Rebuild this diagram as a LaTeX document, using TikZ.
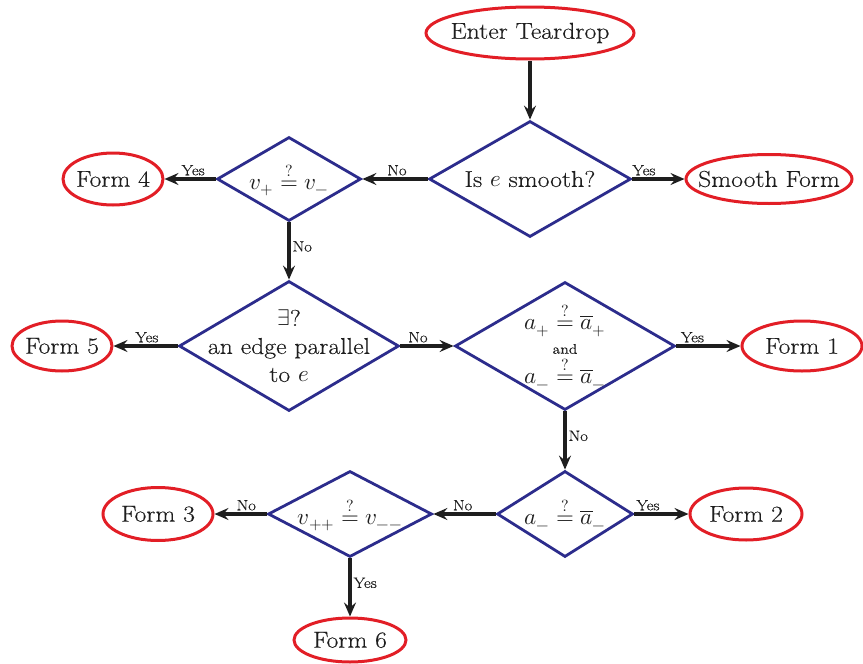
\documentclass[tikz,border=0pt]{standalone}
\usepackage{amsmath}
\usepackage{unicode-math}
\setmainfont{Latin Modern Roman}[FakeStretch=1.12,FakeBold=0.3]
\setmathfont{Latin Modern Math}
\usetikzlibrary{shapes.geometric,arrows.meta}
\definecolor{dblue}{RGB}{44,44,140}
\definecolor{fred}{RGB}{226,30,38}
\definecolor{ink}{RGB}{30,30,30}
\begin{document}
\begin{tikzpicture}[x=1pt,y=-1pt,
 dia/.style={diamond, draw=dblue, line width=2.8pt, inner sep=0pt},
 ell/.style={ellipse, draw=fred, line width=3pt, inner sep=0pt},
 txt/.style={text=ink, font=\fontsize{23}{28}\selectfont, align=center, inner sep=0pt},
 lab/.style={text=ink, font=\fontsize{15}{17}\selectfont, inner sep=2pt},
 arr/.style={draw=ink, line width=3.2pt, -{Stealth[length=14pt,width=12pt,inset=5pt]}}]
\useasboundingbox (0,0) rectangle (863,664);
% shapes
\node[ell, minimum width=208pt, minimum height=52pt] (start) at (530,33) {};
\node[txt] (tstart) at (start) {Enter Teardrop};
\node[dia, minimum width=202pt, minimum height=116pt] (d1) at (530,179) {};
\node[txt] (td1) at (d1) {Is $e$ smooth?};
\node[ell, minimum width=166pt, minimum height=49pt] (fs) at (769,179) {};
\node[txt] (tfs) at (fs) {Smooth Form};
\node[dia, minimum width=144pt, minimum height=84pt] (d2) at (289,179) {};
\node[txt] (td2) at (d2) {$v_+ \stackrel{?}{=} v_-$};
\node[ell, minimum width=100pt, minimum height=52pt] (f4) at (113,179) {};
\node[txt] (tf4) at (f4) {Form 4};
\node[dia, minimum width=220pt, minimum height=130pt] (d3) at (289,346) {};
\node[txt] (td3) at (d3) {$\exists$?\\an edge parallel\\to $e$};
\node[ell, minimum width=100pt, minimum height=50pt] (f5) at (62,346) {};
\node[txt] (tf5) at (f5) {Form 5};
\node[dia, minimum width=220pt, minimum height=128pt] (d4) at (565,346) {};
\node[txt] (td4) at (d4) {$a_+ \stackrel{?}{=} \overline{a}_+$\\[-4pt]{\fontsize{14}{15}\selectfont and}\\[2pt]$a_- \stackrel{?}{=} \overline{a}_-$};
\node[ell, minimum width=120pt, minimum height=50pt] (f1) at (802,346) {};
\node[txt] (tf1) at (f1) {Form 1};
\node[dia, minimum width=136pt, minimum height=86pt] (d5) at (565,514) {};
\node[txt] (td5) at (d5) {$a_- \stackrel{?}{=} \overline{a}_-$};
\node[ell, minimum width=112pt, minimum height=52pt] (f2) at (746,514) {};
\node[txt] (tf2) at (f2) {Form 2};
\node[dia, minimum width=164pt, minimum height=86pt] (d6) at (350,514) {};
\node[txt] (td6) at (d6) {$v_{++} \stackrel{?}{=} v_{--}$};
\node[ell, minimum width=110pt, minimum height=53pt] (f3) at (158,514) {};
\node[txt] (tf3) at (f3) {Form 3};
\node[ell, minimum width=112pt, minimum height=44pt] (f6) at (350,640) {};
\node[txt] (tf6) at (f6) {Form 6};
% connectors
\draw[arr] (start.south) -- (d1.north);
\draw[arr] (d1.east) -- node[lab, above, pos=0.22] {Yes} (fs.west);
\draw[arr] (d1.west) -- node[lab, above, pos=0.47] {No} (d2.east);
\draw[arr] (d2.west) -- node[lab, above, pos=0.44] {Yes} (f4.east);
\draw[arr] (d2.south) -- node[lab, right, pos=0.42] {No} (d3.north);
\draw[arr] (d3.west) -- node[lab, above, pos=0.48] {Yes} (f5.east);
\draw[arr] (d3.east) -- node[lab, above, pos=0.33] {No} (d4.west);
\draw[arr] (d4.east) -- node[lab, above, pos=0.25] {Yes} (f1.west);
\draw[arr] (d4.south) -- node[lab, right, pos=0.42] {No} (d5.north);
\draw[arr] (d5.east) -- node[lab, above, pos=0.25] {Yes} (f2.west);
\draw[arr] (d5.west) -- node[lab, above, pos=0.53] {No} (d6.east);
\draw[arr] (d6.west) -- node[lab, above, pos=0.39] {No} (f3.east);
\draw[arr] (d6.south) -- node[lab, right, pos=0.42] {Yes} (f6.north);
\end{tikzpicture}
\end{document}
